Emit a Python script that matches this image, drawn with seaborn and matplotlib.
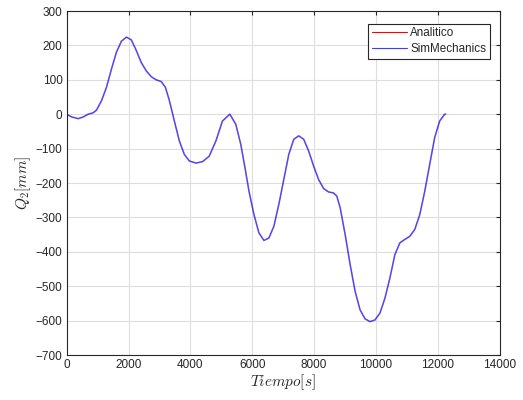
import matplotlib
matplotlib.use("Agg")
import matplotlib.pyplot as plt
import seaborn as sns
import pandas as pd

# Trayectoria Q2 en el tiempo
tiempo = [0, 161, 373, 534, 695, 855, 965, 1125, 1286, 1447, 1608, 1768, 1929,
          2090, 2251, 2412, 2572, 2733, 2894, 3055, 3193, 3322, 3482, 3643, 3804,
          3965, 4180, 4392, 4608, 4823, 5035, 5273, 5466, 5627, 5765, 5894, 6055,
          6215, 6376, 6537, 6698, 6859, 7019, 7180, 7341, 7502, 7663, 7823, 7984,
          8145, 8305, 8466, 8627, 8733, 8842, 9003, 9164, 9325, 9486, 9646, 9807,
          9968, 10129, 10289, 10450, 10611, 10772, 10932, 11093, 11254, 11415,
          11576, 11736, 11897, 12058, 12219, 12250]
q2_analitico = [0, -8, -13, -8, 0, 4, 12, 39, 78, 131, 180, 212, 224,
                216, 185, 150, 126, 109, 100, 95, 78, 39, -20, -78, -117,
                -136, -142, -138, -122, -78, -20, 0, -29, -87, -156, -224, -292,
                -345, -367, -360, -326, -262, -190, -117, -73, -63, -73, -107, -151,
                -190, -216, -226, -229, -238, -272, -350, -437, -515, -569, -595, -603,
                -598, -578, -535, -476, -408, -374, -364, -355, -335, -292,
                -224, -146, -68, -20, 0, 0]
q2_simmechanics = list(q2_analitico)

xticks = list(range(0, 14001, 2000))
yticks = list(range(-700, 301, 100))

sns.set_style("whitegrid")
plt.rcParams["font.family"] = ["Liberation Sans", "DejaVu Sans"]
plt.rcParams["mathtext.fontset"] = "cm"

fig = plt.figure(figsize=(5.23, 4.0), dpi=100)
ax = fig.add_axes([0.1275, 0.1125, 0.828, 0.86])

df_a = pd.DataFrame({"t": tiempo, "q": q2_analitico})
df_s = pd.DataFrame({"t": tiempo, "q": q2_simmechanics})
sns.lineplot(data=df_a, x="t", y="q", ax=ax, color="#ff0000", lw=1.1, alpha=0.2,
             label="Analitico", estimator=None, sort=False)
sns.lineplot(data=df_s, x="t", y="q", ax=ax, color="#0000ff", lw=1.1, alpha=0.66,
             label="SimMechanics", estimator=None, sort=False)

ax.set_xlim(0, 14000)
ax.set_ylim(-700, 300)
ax.set_xticks(xticks)
ax.set_yticks(yticks)
ax.tick_params(direction="in", length=3, width=0.8, colors="#262626",
               labelsize=8.5, top=True, right=True, pad=3)
ax.grid(True, color="#dedede", lw=0.8)
for s in ax.spines.values():
    s.set_color("#262626")
    s.set_linewidth(0.8)
ax.set_facecolor("white")
ax.set_xlabel("$Tiempo[s]$", fontsize=11, labelpad=1)
ax.set_ylabel("$Q_2[mm]$", fontsize=11, labelpad=2)

leg = ax.legend(loc="upper right", fontsize=8.4, frameon=True, fancybox=False,
                edgecolor="#262626", framealpha=1, borderpad=0.3,
                handlelength=3.0, handletextpad=0.3, labelspacing=0.35,
                bbox_to_anchor=(0.99, 0.98))
for line, c in zip(leg.get_lines(), ["#ff0000", "#3c3cff"]):
    line.set_alpha(1.0)
    line.set_color(c)
    line.set_linewidth(0.8)
leg.get_frame().set_linewidth(0.8)

fig.savefig("out.png", dpi=100, facecolor="white")
